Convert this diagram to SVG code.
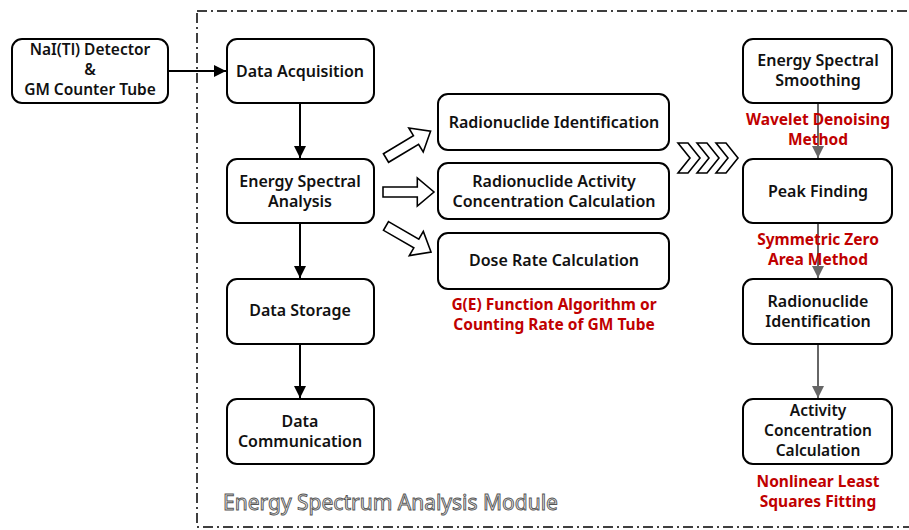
<svg xmlns="http://www.w3.org/2000/svg" width="909" height="530" viewBox="0 0 909 530">
<defs>
<style>
.box{fill:#fff;stroke:#000;stroke-width:2}
.t{font-family:"Noto Sans","Liberation Sans",sans-serif;font-weight:600;font-size:16px;fill:#111;text-anchor:middle}
.t3{font-size:15.5px}
.r{font-family:"Noto Sans","Liberation Sans",sans-serif;font-weight:700;font-size:15.5px;fill:#c00000;text-anchor:middle}
.c{fill:none;stroke:#000;stroke-width:2}
.g{fill:none;stroke:#666;stroke-width:2}
.ba{fill:#fff;stroke:#000;stroke-width:1.6;stroke-linejoin:miter}
</style>
<marker id="ah" viewBox="0 0 10 10" refX="10" refY="5" markerWidth="6" markerHeight="6" markerUnits="strokeWidth" orient="auto"><path d="M0,0L10,5L0,10z" fill="#000"/></marker>
<marker id="ahg" viewBox="0 0 10 10" refX="10" refY="5" markerWidth="6" markerHeight="6" markerUnits="strokeWidth" orient="auto"><path d="M0,0L10,5L0,10z" fill="#666"/></marker>
<polygon id="blk" points="0,-5 35,-5 35,-14 52,0 35,14 35,5 0,5"/>
<polygon id="chev" points="0,0 10,0 22,15 10,30 0,30 12,15"/>
</defs>
<rect width="909" height="530" fill="#fff"/>
<rect id="module" x="197" y="11" width="740" height="516" fill="none" stroke="#000" stroke-width="1.5" stroke-dasharray="10,4,2,4"/>
<g id="connectors">
<line class="c" x1="168" y1="71" x2="226" y2="71" marker-end="url(#ah)"/>
<line class="c" x1="300" y1="103" x2="300" y2="158" marker-end="url(#ah)"/>
<line class="c" x1="300" y1="223" x2="300" y2="278" marker-end="url(#ah)"/>
<line class="c" x1="300" y1="344" x2="300" y2="398" marker-end="url(#ah)"/>
<line class="g" x1="818" y1="103" x2="818" y2="158" marker-end="url(#ahg)"/>
<line class="g" x1="818" y1="223" x2="818" y2="278" marker-end="url(#ahg)"/>
<line class="g" x1="818" y1="344" x2="818" y2="398" marker-end="url(#ahg)"/>
<use href="#blk" class="ba" transform="translate(386,158) rotate(-31)"/>
<use href="#blk" class="ba" transform="translate(383,192) scale(0.98,1)"/>
<use href="#blk" class="ba" transform="translate(386,226) rotate(30)"/>
<use href="#chev" class="ba" x="678" y="143"/>
<use href="#chev" class="ba" x="697" y="143"/>
<use href="#chev" class="ba" x="716" y="143"/>
</g>
<g id="n-detector"><rect class="box" x="12" y="39" width="156" height="64" rx="10"/><text class="t t3" x="90" y="55">NaI(Tl) Detector</text><text class="t t3" x="90" y="75">&amp;</text><text class="t t3" x="90" y="95">GM Counter Tube</text></g>
<g id="n-acq"><rect class="box" x="227" y="39" width="147" height="64" rx="10"/><text class="t" x="300" y="77">Data Acquisition</text></g>
<g id="n-esa"><rect class="box" x="227" y="159" width="147" height="64" rx="10"/><text class="t" x="300" y="187">Energy Spectral</text><text class="t" x="300" y="207">Analysis</text></g>
<g id="n-storage"><rect class="box" x="227" y="279" width="147" height="65" rx="10"/><text class="t" x="300" y="316">Data Storage</text></g>
<g id="n-comm"><rect class="box" x="227" y="399" width="147" height="65" rx="10"/><text class="t" x="300" y="427">Data</text><text class="t" x="300" y="447">Communication</text></g>
<g id="n-rid"><rect class="box" x="438" y="94" width="231" height="56" rx="10"/><text class="t" x="554" y="128">Radionuclide Identification</text></g>
<g id="n-rac"><rect class="box" x="438" y="163" width="231" height="56" rx="10"/><text class="t" x="554" y="187">Radionuclide Activity</text><text class="t" x="554" y="207">Concentration Calculation</text></g>
<g id="n-dose"><rect class="box" x="438" y="233" width="231" height="56" rx="10"/><text class="t" x="554" y="266">Dose Rate Calculation</text></g>
<g id="l-dose"><text class="r" x="554" y="310">G(E) Function Algorithm or</text><text class="r" x="554" y="330">Counting Rate of GM Tube</text></g>
<g id="n-smooth"><rect class="box" x="743" y="39" width="149" height="64" rx="10"/><text class="t" x="818" y="66">Energy Spectral</text><text class="t" x="818" y="86">Smoothing</text></g>
<g id="l-smooth"><text class="r" x="818" y="125">Wavelet Denoising</text><text class="r" x="818" y="145">Method</text></g>
<g id="n-peak"><rect class="box" x="743" y="159" width="149" height="64" rx="10"/><text class="t" x="818" y="197">Peak Finding</text></g>
<g id="l-peak"><text class="r" x="818" y="245">Symmetric Zero</text><text class="r" x="818" y="265">Area Method</text></g>
<g id="n-rid2"><rect class="box" x="743" y="279" width="149" height="65" rx="10"/><text class="t" x="818" y="307">Radionuclide</text><text class="t" x="818" y="327">Identification</text></g>
<g id="n-act"><rect class="box" x="743" y="399" width="149" height="65" rx="10"/><text class="t t3" x="818" y="416">Activity</text><text class="t t3" x="818" y="436">Concentration</text><text class="t t3" x="818" y="456">Calculation</text></g>
<g id="l-act"><text class="r" x="818" y="487">Nonlinear Least</text><text class="r" x="818" y="507">Squares Fitting</text></g>
<text x="223" y="510" font-family="Noto Sans, Liberation Sans, sans-serif" font-size="21" fill="#e8e8e8" stroke="#555" stroke-width="0.9">Energy Spectrum Analysis Module</text>
</svg>
